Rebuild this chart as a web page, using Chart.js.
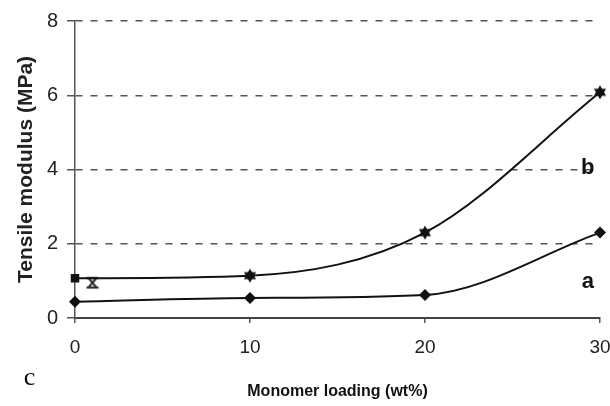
<!DOCTYPE html>
<html>
<head>
<meta charset="utf-8">
<script src="https://cdn.jsdelivr.net/npm/chart.js@4.4.1/dist/chart.umd.min.js"></script>
<style>
  html, body { margin: 0; padding: 0; background: #fff; }
  #wrap { width: 610px; height: 406px; position: relative; }
</style>
</head>
<body>
<div id="wrap"><canvas id="chart"></canvas></div>
<script>
// Values (tensile modulus vs monomer loading)
const loading = [0, 10, 20, 30];
const seriesA = [0.44, 0.54, 0.62, 2.30];
const seriesB = [1.07, 1.14, 2.30, 6.08];
// stray marker next to the first point of curve b
const extraX = [1.0];
const extraY = [0.95];
const yTicks = [0, 2, 4, 6, 8];
const xTicks = [0, 10, 20, 30];

// curve labels, in data units
const curveLabels = [
  { text: "b", x: 29.3, y: 4.05, font: "bold 22px 'Liberation Sans', Arial, sans-serif" },
  { text: "a", x: 29.3, y: 0.97, font: "bold 22px 'Liberation Sans', Arial, sans-serif" },
  { text: "c", x: -2.6, y: -1.62, font: "26px 'Liberation Serif', 'DejaVu Serif', serif" },
];

// star marker (two overlapping triangles) for curve b
function makeStar(r) {
  const c = document.createElement("canvas");
  const s = r * 2 + 2;
  c.width = s; c.height = s;
  const g = c.getContext("2d");
  const m = s / 2;
  g.fillStyle = "#111";
  g.beginPath();
  g.moveTo(m, m - r); g.lineTo(m + r * 0.87, m + r * 0.5); g.lineTo(m - r * 0.87, m + r * 0.5);
  g.closePath(); g.fill();
  g.beginPath();
  g.moveTo(m, m + r); g.lineTo(m + r * 0.87, m - r * 0.5); g.lineTo(m - r * 0.87, m - r * 0.5);
  g.closePath(); g.fill();
  return c;
}

// hourglass marker (bar, X, bar)
function makeHourglass(r) {
  const c = document.createElement("canvas");
  const s = r * 2 + 2;
  c.width = s; c.height = s;
  const g = c.getContext("2d");
  const m = s / 2;
  g.strokeStyle = "#222";
  g.lineWidth = 2;
  g.beginPath();
  g.moveTo(m - r, m - r * 0.8); g.lineTo(m + r, m - r * 0.8);
  g.moveTo(m - r, m + r * 0.8); g.lineTo(m + r, m + r * 0.8);
  g.moveTo(m - r * 0.7, m - r * 0.8); g.lineTo(m + r * 0.7, m + r * 0.8);
  g.moveTo(m + r * 0.7, m - r * 0.8); g.lineTo(m - r * 0.7, m + r * 0.8);
  g.stroke();
  return c;
}

const star = makeStar(7);
const hourglass = makeHourglass(6);

const toPts = (xs, ys) => xs.map((x, i) => ({ x: x, y: ys[i] }));

const labelPlugin = {
  id: "curveLabels",
  afterDatasetsDraw(chart) {
    const ctx = chart.ctx;
    const xs = chart.scales.x, ys = chart.scales.y;
    ctx.save();
    ctx.fillStyle = "#111";
    ctx.textAlign = "center";
    ctx.textBaseline = "middle";
    curveLabels.forEach((l) => {
      ctx.font = l.font;
      ctx.fillText(l.text, xs.getPixelForValue(l.x), ys.getPixelForValue(l.y));
    });
    ctx.restore();
  },
};

new Chart(document.getElementById("chart"), {
  type: "line",
  data: {
    datasets: [
      {
        label: "a",
        data: toPts(loading, seriesA),
        borderColor: "#111",
        backgroundColor: "#111",
        borderWidth: 2,
        cubicInterpolationMode: "monotone",
        pointStyle: "rectRot",
        pointRadius: 6,
        pointBorderWidth: 0,
        clip: false,
      },
      {
        label: "b",
        data: toPts(loading, seriesB),
        borderColor: "#111",
        backgroundColor: "#111",
        borderWidth: 2,
        cubicInterpolationMode: "monotone",
        pointStyle: ["rect", star, star, star],
        pointRadius: 6,
        pointBorderWidth: 0,
        clip: false,
      },
      {
        label: "extra",
        data: toPts(extraX, extraY),
        showLine: false,
        pointStyle: hourglass,
        pointRadius: 6,
        clip: false,
      },
    ],
  },
  options: {
    responsive: true,
    maintainAspectRatio: false,
    animation: false,
    layout: { padding: { top: 14, right: 0, left: 0, bottom: 0 } },
    plugins: {
      legend: { display: false },
      tooltip: { enabled: false },
    },
    scales: {
      x: {
        type: "linear",
        min: 0,
        max: 30,
        afterBuildTicks: (s) => { s.ticks = xTicks.map((v) => ({ value: v })); },
        afterFit: (s) => { s.height = 88; s.paddingRight = 10; s.paddingLeft = 0; },
        grid: { drawOnChartArea: false, drawTicks: true, tickLength: 5, color: "#555", lineWidth: 1.5 },
        border: { display: true, color: "#444", width: 2 },
        ticks: {
          color: "#222",
          padding: 13,
          font: { family: "'Liberation Sans', Arial, sans-serif", size: 19 },
        },
        title: {
          display: true,
          text: "Monomer loading (wt%)",
          color: "#111",
          padding: { top: 0, bottom: 5 },
          font: { family: "'Liberation Sans Narrow', 'Liberation Sans', Arial, sans-serif", size: 16, weight: "bold" },
        },
      },
      y: {
        min: 0,
        max: 8,
        afterBuildTicks: (s) => { s.ticks = yTicks.map((v) => ({ value: v })); },
        afterFit: (s) => { s.width = 75; },
        grid: { color: "#555", lineWidth: 1.5, drawTicks: true, tickLength: 8 },
        border: { display: true, color: "#555", width: 1.5, dash: [7, 8] },
        ticks: {
          color: "#222",
          padding: 9,
          font: { family: "'Liberation Sans', Arial, sans-serif", size: 20 },
        },
        title: {
          display: true,
          text: "Tensile modulus (MPa)",
          color: "#222",
          padding: { top: 14, bottom: 0 },
          font: { family: "'Liberation Sans', Arial, sans-serif", size: 21, weight: "bold" },
        },
      },
    },
  },
  plugins: [labelPlugin],
});
</script>
</body>
</html>
